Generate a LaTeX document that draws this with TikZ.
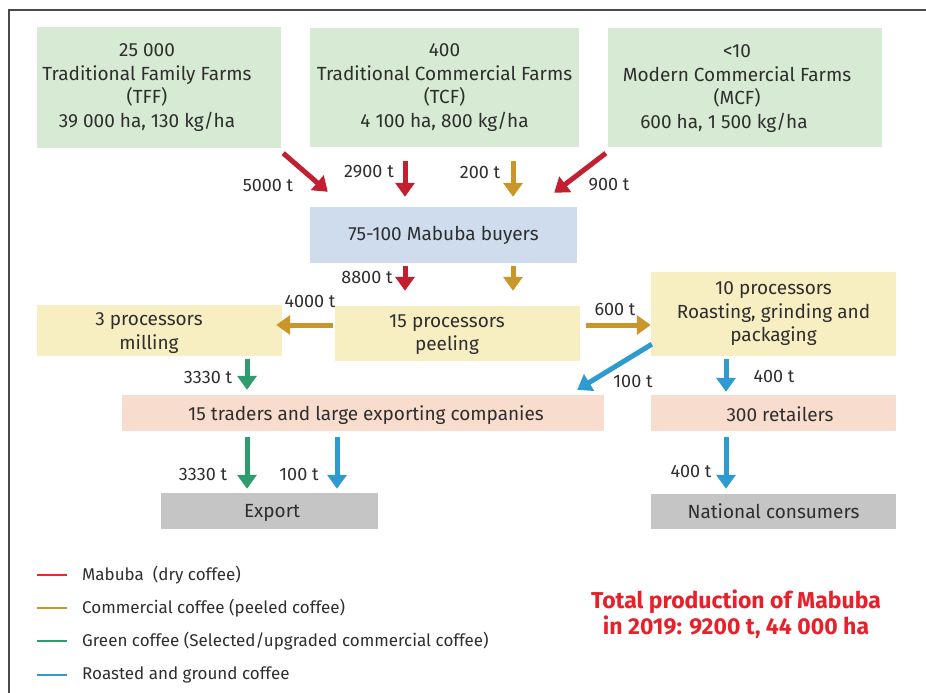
\documentclass[tikz,border=0pt]{standalone}
\usepackage{fontspec}
\setmainfont{Fira Sans}
\usetikzlibrary{arrows.meta,calc}
\definecolor{cgreenbox}{HTML}{D7EAD3}
\definecolor{cbluebox}{HTML}{CEDCEE}
\definecolor{cyellowbox}{HTML}{F7EFC2}
\definecolor{cpeachbox}{HTML}{F8DDCE}
\definecolor{cgraybox}{HTML}{C4C5C4}
\definecolor{cred}{HTML}{C21F30}
\definecolor{clegred}{HTML}{E42A2F}
\definecolor{cgold}{HTML}{C9962A}
\definecolor{cgreen}{HTML}{2E9C6C}
\definecolor{cblue}{HTML}{2E9BD0}
\definecolor{ctext}{HTML}{2E2E2E}
\definecolor{cframe}{HTML}{4A4A4A}
\definecolor{ctotal}{HTML}{E8202A}
\tikzset{
  box/.style={inner sep=0pt, align=center, text=ctext, font=\fontsize{19}{23.5}\selectfont},
  boxtxt/.style={inner sep=0pt, align=center, text=ctext, font=\fontsize{19}{23.5}\selectfont},
  flow/.style={line width=5pt, -{Triangle[width=19pt,length=14pt]}},
  qty/.style={inner sep=0pt, text=ctext, font=\fontsize{18}{20}\selectfont},
  legtext/.style={inner sep=0pt, anchor=west, text=ctext, font=\fontsize{17}{20}\selectfont},
  legline/.style={line width=2pt}
}
\begin{document}
\begin{tikzpicture}[x=1pt,y=-1pt]
\useasboundingbox (0,0) rectangle (926,693);
\draw[line width=2pt, cframe] (9,693) -- (9,10) -- (926,10);

% boxes
\node[box, fill=cgreenbox, minimum width=244pt, minimum height=121pt] (tff) at (159,87.5) {};
\node[boxtxt] (tfft) at (147,87.5)
  {25 000\\Traditional Family Farms\\(TFF)\\39 000 ha, 130 kg/ha};
\node[box, fill=cgreenbox, minimum width=269pt, minimum height=119pt] (tcf) at (444.5,87.5)
  {400\\Traditional Commercial Farms\\(TCF)\\4 100 ha, 800 kg/ha};
\node[box, fill=cgreenbox, minimum width=274pt, minimum height=119pt] (mcf) at (745,87.5) {};
\node[boxtxt] (mcft) at (737,88.5)
  {<10\\Modern Commercial Farms\\(MCF)\\600 ha, 1 500 kg/ha\hspace*{26pt}};
\node[box, fill=cbluebox, minimum width=267pt, minimum height=56pt] (buy) at (443.5,235)
  {75-100 Mabuba buyers};
\node[box, fill=cyellowbox, minimum width=245pt, minimum height=51pt] (mill) at (159.5,330.5) {};
\node[boxtxt] (millt) at (149,333)
  {3 processors\\milling};
\node[box, fill=cyellowbox, minimum width=245pt, minimum height=55pt] (peel) at (457.5,333.5) {};
\node[boxtxt] (peelt) at (447,334.5)
  {15 processors\\peeling};
\node[box, fill=cyellowbox, minimum width=245pt, minimum height=84pt] (roast) at (773.5,314)
  {10 processors\\Roasting, grinding and\\packaging};
\node[box, fill=cpeachbox, minimum width=482pt, minimum height=36pt] (trad) at (363,413) {};
\node[boxtxt] (tradt) at (366,415)
  {15 traders and large exporting companies};
\node[box, fill=cpeachbox, minimum width=245pt, minimum height=36pt] (ret) at (773.5,413) {};
\node[boxtxt] (rett) at (780,414)
  {300 retailers};
\node[box, fill=cgraybox, minimum width=217pt, minimum height=36pt] (exp) at (269.5,511) {};
\node[boxtxt] (expt) at (272,512.5) {Export};
\node[box, fill=cgraybox, minimum width=245pt, minimum height=35pt] (nat) at (773.5,511.5)
  {National consumers};

% flows
\draw[flow, cred] ($(tff.south east)+(2,5)$) -- ($(buy.north west)+(18,-15)$);
\draw[flow, cred] ($(tcf.south)+(-39.5,14)$) -- ($(buy.north)+(-38.5,-10)$);
\draw[flow, cgold] ($(tcf.south)+(68.5,14)$) -- ($(buy.north)+(69.5,-10)$);
\draw[flow, cred] ($(mcf.south west)+(-2,6)$) -- ($(buy.north east)+(-23,-14)$);
\draw[flow, cred] ($(buy.south)+(-38.5,3)$) -- ($(peel.north)+(-52.5,-15)$);
\draw[flow, cgold] ($(buy.south)+(69.5,3)$) -- ($(peel.north)+(55.5,-15)$);
\draw[flow, cgold] ($(peel.west)+(-2,-8.5)$) -- ($(mill.east)+(-6,-5.5)$);
\draw[flow, cgold] ($(peel.east)+(6,-8.5)$) -- ($(roast.west)+(0,11)$);
\draw[flow, cblue] ($(roast.south west)+(1,-12)$) -- ($(trad.north east)+(-27,-5)$);
\draw[flow, cgreen] ($(mill.south)+(87.5,3)$) -- ($(trad.north)+(-116,-5)$);
\draw[flow, cblue] ($(roast.south)+(-47.5,3)$) -- ($(ret.north)+(-47.5,-3)$);
\draw[flow, cblue] ($(ret.south)+(-47.5,6)$) -- ($(nat.north)+(-47.5,-5)$);
\draw[flow, cgreen] ($(trad.south)+(-116,6)$) -- ($(exp.north)+(-22.5,-4)$);
\draw[flow, cblue] ($(trad.south)+(-26,6)$) -- ($(exp.north)+(67.5,-4)$);

% quantities
\node[qty] (q1) at (268,185) {5000 t};
\node[qty] (q2) at (369,172) {2900 t};
\node[qty] (q3) at (480,172) {200 t};
\node[qty] (q4) at (609,185) {900 t};
\node[qty] (q5) at (367,277) {8800 t};
\node[qty] (q6) at (310,301) {4000 t};
\node[qty] (q7) at (615,309) {600 t};
\node[qty] (q8) at (633,381) {100 t};
\node[qty] (q9) at (208,377) {3330 t};
\node[qty] (q10) at (774,376) {400 t};
\node[qty] (q11) at (691,471) {400 t};
\node[qty] (q12) at (203,474) {3330 t};
\node[qty] (q13) at (299,474) {100 t};

% legend
\draw[legline, clegred] (37,575) -- (67,575);
\node[legtext] (l1) at (82,575) {Mabuba\ \ (dry coffee)};
\draw[legline, cgold] (37,608) -- (67,608);
\node[legtext] (l2) at (82,608) {Commercial coffee (peeled coffee)};
\draw[legline, cgreen] (37,641) -- (67,641);
\node[legtext] (l3) at (82,641) {Green coffee (Selected/upgraded commercial coffee)};
\draw[legline, cblue] (37,675) -- (67,675);
\node[legtext] (l4) at (82,675) {Roasted and ground coffee};

\node[inner sep=0pt, align=center, text=ctotal, font=\bfseries\fontsize{23}{26}\selectfont] (total) at (736,614.5)
  {Total production of Mabuba\\in 2019: 9200 t, 44 000 ha};
\end{tikzpicture}
\end{document}
